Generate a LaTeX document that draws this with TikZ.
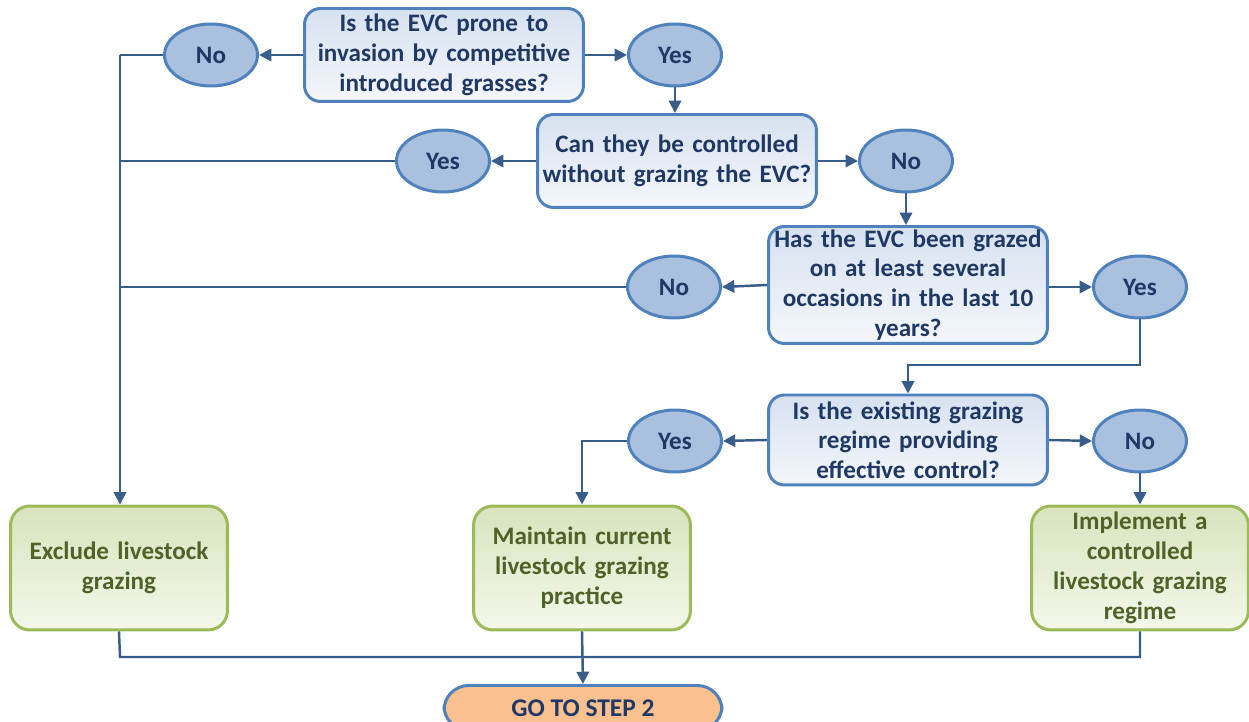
\documentclass[tikz,border=0pt]{standalone}
\usepackage{fontspec}
\setmainfont{Carlito}
\usetikzlibrary{arrows.meta,shapes.geometric,positioning}
\definecolor{bord}{HTML}{4F81BD}
\definecolor{boxtop}{HTML}{D6E1F0}
\definecolor{boxbot}{HTML}{F4F7FB}
\definecolor{ellfill}{HTML}{A9C0DF}
\definecolor{qtext}{HTML}{1F3864}
\definecolor{gbord}{HTML}{9BBB59}
\definecolor{gtop}{HTML}{D7E4BD}
\definecolor{gbot}{HTML}{F3F8EA}
\definecolor{gtext}{HTML}{4F6228}
\definecolor{conn}{HTML}{385D8A}
\definecolor{gofill}{HTML}{FAC090}
\tikzset{
  qbox/.style={draw=bord, line width=1.7pt, rounded corners=9pt, top color=boxtop, bottom color=boxbot,
    minimum width=5.58cm, text width=5.4cm, align=center, inner sep=0pt, text=qtext,
    font=\fontsize{14.3}{16.9}\selectfont\bfseries},
  ans/.style={ellipse, draw=bord, line width=1.7pt, fill=ellfill, minimum width=1.86cm, minimum height=1.24cm,
    inner sep=0pt, text=qtext, font=\fontsize{14.3}{16}\selectfont\bfseries},
  act/.style={draw=gbord, line width=1.7pt, rounded corners=11pt, top color=gtop, bottom color=gbot,
    minimum width=4.34cm, minimum height=2.48cm, text width=4.1cm, align=center, inner sep=0pt, text=gtext,
    font=\fontsize{14.3}{17}\selectfont\bfseries},
  gobox/.style={draw=bord, line width=1.7pt, rounded corners=14pt, fill=gofill,
    minimum width=5.56cm, minimum height=0.9cm, inner sep=0pt, text=qtext,
    font=\fontsize{14.5}{16}\selectfont\bfseries},
  conn/.style={draw=conn, line width=1.4pt},
  arr/.style={conn, -{Triangle[length=7pt,width=7pt]}},
}
\begin{document}
\begin{tikzpicture}[x=0.02cm,y=-0.02cm]
\useasboundingbox (0,0) rectangle (1249,722);
% questions
\node[qbox, minimum height=1.86cm] (q1) at (444,55) {Is the EVC prone to\\invasion by competitive\\introduced grasses?};
\node[qbox, minimum height=1.86cm] (q2) at (677,161) {Can they be controlled\\without grazing the EVC?};
\node[qbox, minimum height=2.34cm] (q3) at (908,285) {Has the EVC been grazed\\on at least several\\occasions in the last 10\\years?};
\node[qbox, minimum height=1.80cm] (q4) at (908,440) {Is the existing grazing\\regime providing\\effective control?};
% answers
\node[ans] (no1) at (211,55) {No};
\node[ans] (yes1) at (675,55) {Yes};
\node[ans] (yes2) at (443,161) {Yes};
\node[ans] (no2) at (906,161) {No};
\node[ans] (no3) at (674,287) {No};
\node[ans] (yes3) at (1140,287) {Yes};
\node[ans] (yes4) at (675,441) {Yes};
\node[ans] (no4) at (1140,441) {No};
% actions
\node[act] (a1) at (119,568) {Exclude livestock\\grazing};
\node[act] (a2) at (582,568) {Maintain current\\livestock grazing\\practice};
\node[act] (a3) at (1140,568) {Implement a\\controlled\\livestock grazing\\regime};
\node[gobox] (go) at (583,708) {GO TO STEP 2};
% coordinates
\coordinate (left1) at (120,55);
\coordinate (left2) at (120,161);
\coordinate (left3) at (120,287);
\coordinate (bend3) at (1140,365);
\coordinate (bend3b) at (908,365);
\coordinate (bot1) at (120,657);
\coordinate (bot3) at (1140,657);
% connectors
\draw[arr] (q1.west) -- (no1.east);
\draw[arr] (q1.east) -- (yes1.west);
\draw[arr] (yes1.south) -- (yes1.south |- q2.north);
\draw[arr] (q2.west) -- (yes2.east);
\draw[arr] (q2.east) -- (no2.west);
\draw[arr] (no2.south) -- (no2.south |- q3.north);
\draw[arr] (q3.west) -- (no3.east);
\draw[arr] (q3.east |- yes3.west) -- (yes3.west);
\draw[arr] (yes3.south) -- (bend3) -- (bend3b) -- (q4.north);
\draw[arr] (q4.west) -- (yes4.east);
\draw[arr] (q4.east) -- (no4.west);
\draw[arr] (yes4.west) -| (a2.north);
\draw[arr] (no4.south) -- (a3.north);
\draw[conn] (no1.west) -- (left1);
\draw[conn] (yes2.west) -- (left2);
\draw[conn] (no3.west) -- (left3);
\draw[arr] (left1) -- (left1 |- a1.north);
\draw[conn] (a1.south) -- (bot1) -- (bot3) -- (a3.south);
\draw[arr] (a2.south) -- (go.north);
\end{tikzpicture}
\end{document}
